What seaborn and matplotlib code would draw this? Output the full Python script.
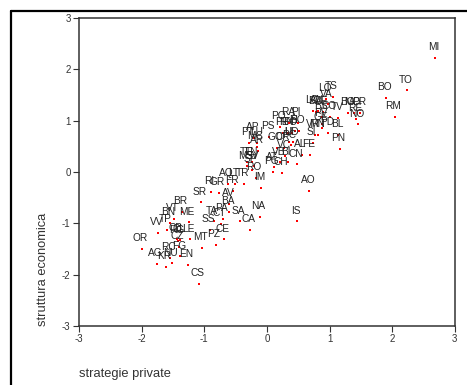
import matplotlib
matplotlib.use("Agg")
import matplotlib.pyplot as plt
from matplotlib.lines import Line2D
import pandas as pd
import seaborn as sns

# Province codes with their scores on the two factors
province = [
    "MI", "TO", "BO", "RM", "TS", "LO", "VA", "AN", "LC", "BZ", "VE", "BS", "CO", "TV",
    "BG", "MO", "PR", "RE", "NO", "PV", "GE", "PD", "BL", "VR", "MN", "SI", "PN",
    "RA", "PI", "PO", "FI", "SO", "PE", "RN", "FO", "LI", "UD", "PC",
    "AP", "PS", "PT", "LU", "MC", "AR", "GO", "CR", "VC", "AL", "FE",
    "VB", "BI", "CN", "AT", "PG", "CH", "TE", "TN", "MS", "SV", "SP", "RO",
    "IM", "AO", "AQ", "LT", "TR", "FR", "RI", "GR", "SR", "AV", "BA",
    "BR", "VT", "BN", "ME", "TA", "PA", "CT", "SA", "NA", "CA", "SS", "IS",
    "VV", "TP", "CB", "CL", "RG", "LE", "CZ", "MT", "PZ", "CE", "OR",
    "RC", "FG", "AG", "NU", "KR", "EN", "CS",
]
strategie_private = [
    2.68, 2.23, 1.90, 2.04, 1.05, 0.95, 0.97, 0.82, 0.74, 0.79, 0.89, 0.88, 1.01, 1.14,
    1.30, 1.39, 1.49, 1.43, 1.45, 0.88, 0.88, 0.98, 1.14, 0.76, 0.82, 0.73, 1.16,
    0.36, 0.49, 0.21, 0.45, 0.52, 0.26, 0.33, 0.40, 0.36, 0.42, 0.38,
    -0.20, 0.03, -0.28, -0.15, -0.16, -0.14, 0.16, 0.27, 0.29, 0.56, 0.69,
    0.21, 0.33, 0.48, 0.11, 0.10, 0.24, -0.31, -0.23, -0.31, -0.21, -0.24, -0.18,
    -0.09, 0.68, -0.62, -0.51, -0.37, -0.54, -0.90, -0.77, -1.05, -0.60, -0.60,
    -1.36, -1.49, -1.55, -1.25, -0.85, -0.70, -0.74, -0.43, -0.11, -0.27, -0.91, 0.48,
    -1.74, -1.60, -1.44, -1.38, -1.42, -1.23, -1.41, -1.04, -0.82, -0.68, -2.00,
    -1.55, -1.38, -1.76, -1.52, -1.61, -1.26, -1.08,
]
struttura_economica = [
    2.22, 1.59, 1.45, 1.07, 1.47, 1.43, 1.32, 1.19, 1.19, 1.17, 1.17, 1.08, 1.08, 1.06,
    1.16, 1.16, 1.16, 1.04, 0.93, 0.94, 0.86, 0.77, 0.72, 0.72, 0.72, 0.57, 0.45,
    0.96, 0.96, 0.88, 0.81, 0.81, 0.76, 0.76, 0.76, 0.58, 0.58, 0.52,
    0.67, 0.68, 0.57, 0.57, 0.49, 0.41, 0.47, 0.47, 0.32, 0.34, 0.33,
    0.19, 0.19, 0.15, 0.09, 0.00, -0.01, 0.19, 0.19, 0.11, 0.11, 0.04, -0.11,
    -0.31, -0.36, -0.23, -0.23, -0.23, -0.36, -0.39, -0.41, -0.59, -0.62, -0.78,
    -0.78, -0.91, -0.99, -0.98, -0.96, -0.91, -1.01, -0.96, -0.87, -1.12, -1.12, -0.96,
    -1.19, -1.12, -1.30, -1.32, -1.34, -1.31, -1.46, -1.48, -1.42, -1.31, -1.50,
    -1.67, -1.64, -1.79, -1.78, -1.84, -1.81, -2.18,
]
ticks = [-3, -2, -1, 0, 1, 2, 3]

df = pd.DataFrame({"prov": province, "x": strategie_private, "y": struttura_economica})

sns.set_style("white")
plt.rcParams["font.family"] = ["Liberation Sans", "DejaVu Sans"]

fig = plt.figure(figsize=(4.67, 3.85), dpi=100)
ax = fig.add_axes([0.169, 0.153, 0.805, 0.80])

sns.scatterplot(data=df, x="x", y="y", ax=ax, color="#ff0000", s=2.5,
                marker="s", linewidth=0, legend=False, zorder=3)

for name, xv, yv in zip(df["prov"], df["x"], df["y"]):
    ax.annotate(name, (xv, yv), xytext=(-1, 7.7), textcoords="offset points",
                ha="center", va="center", fontsize=7.3, color="#222222", zorder=4)

ax.set_xlim(-3, 3)
ax.set_ylim(-3, 3)
ax.set_xticks(ticks)
ax.set_yticks(ticks)
ax.set_xticklabels([str(t) for t in ticks])
ax.set_yticklabels([str(t) for t in ticks])
ax.tick_params(axis="both", which="major", direction="out", length=4, width=0.8,
               color="#333333", labelsize=7, labelcolor="#333333", pad=2,
               bottom=True, left=True, top=False, right=False)

for side in ["left", "right", "top", "bottom"]:
    ax.spines[side].set_visible(True)
    ax.spines[side].set_color("#333333")
    ax.spines[side].set_linewidth(1.1)

ax.set_xlabel("strategie private", fontsize=9.3, color="#333333", loc="left", labelpad=17)
ax.set_ylabel("struttura economica", fontsize=9.3, color="#333333", loc="bottom", labelpad=9)

# outer frame on the top and left edge
fig.add_artist(Line2D([0.0225, 1.0], [0.971, 0.971], transform=fig.transFigure,
                      color="black", linewidth=1.6))
fig.add_artist(Line2D([0.0225, 0.0225], [0.0, 0.971], transform=fig.transFigure,
                      color="black", linewidth=1.6))

fig.savefig("out.png", dpi=100)
